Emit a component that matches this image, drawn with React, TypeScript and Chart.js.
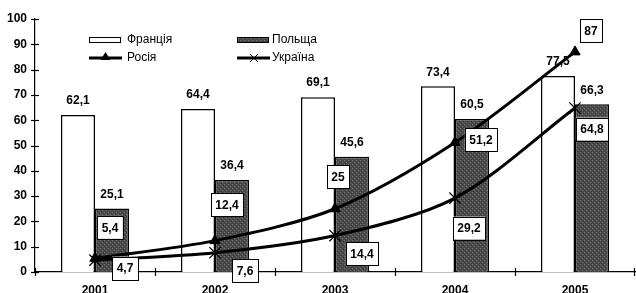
import React, { useEffect, useRef } from "react";
import { Chart, registerables } from "chart.js";

Chart.register(...registerables);

const years = ["2001", "2002", "2003", "2004", "2005"];
const france = [62.1, 64.4, 69.1, 73.4, 77.5];
const poland = [25.1, 36.4, 45.6, 60.5, 66.3];
const russia = [5.4, 12.4, 25, 51.2, 87];
const ukraine = [4.7, 7.6, 14.4, 29.2, 64.8];
const yTicks = [0, 10, 20, 30, 40, 50, 60, 70, 80, 90, 100];

// label box offsets from the point (style)
const russiaLabelOffsets = [[15, -31], [12, -36], [3, -32], [26, -3], [16, -21]];
const ukraineLabelOffsets = [[30, 8], [30, 18], [27, 18], [14, 30], [17, 21]];

const FONT = "'Liberation Sans', Arial, sans-serif";
const fmt = (v: number) => String(v).replace(".", ",");

function makePattern(): CanvasPattern | string {
  const c = document.createElement("canvas");
  c.width = 4;
  c.height = 4;
  const g = c.getContext("2d");
  if (!g) return "#555";
  g.fillStyle = "#4a4a4a";
  g.fillRect(0, 0, 4, 4);
  g.fillStyle = "#747474";
  g.fillRect(0, 0, 1, 1);
  g.fillRect(2, 2, 1, 1);
  g.fillStyle = "#363636";
  g.fillRect(1, 3, 1, 1);
  g.fillRect(3, 1, 1, 1);
  return g.createPattern(c, "repeat") || "#555";
}

export default function App() {
  const ref = useRef<HTMLCanvasElement | null>(null);

  useEffect(() => {
    if (!ref.current) return;
    const pattern = makePattern();

    const drawBox = (ctx: CanvasRenderingContext2D, text: string, cx: number, cy: number) => {
      ctx.font = `bold 12px ${FONT}`;
      const w = ctx.measureText(text).width + 9;
      const h = 23;
      ctx.fillStyle = "#fff";
      ctx.fillRect(cx - w / 2, cy - h / 2, w, h);
      ctx.strokeStyle = "#000";
      ctx.lineWidth = 1;
      ctx.strokeRect(Math.round(cx - w / 2) + 0.5, Math.round(cy - h / 2) + 0.5, Math.round(w), h);
      ctx.fillStyle = "#000";
      ctx.textAlign = "center";
      ctx.textBaseline = "middle";
      ctx.fillText(text, cx, cy + 1);
    };

    const plugin = {
      id: "custom",
      afterDatasetDraw(chart: any, args: any) {
        const ds = chart.data.datasets[args.index];
        if (ds.type !== "bar") return;
        const ctx = chart.ctx;
        ctx.save();
        ctx.font = `bold 12px ${FONT}`;
        ctx.fillStyle = "#000";
        ctx.textAlign = "center";
        ctx.textBaseline = "middle";
        args.meta.data.forEach((el: any, i: number) => {
          ctx.fillText(fmt(ds.data[i]), el.x, el.y - 14);
        });
        ctx.restore();
      },
      afterDatasetsDraw(chart: any) {
        const ctx = chart.ctx;
        ctx.save();
        const offs = [russiaLabelOffsets, ukraineLabelOffsets];
        [2, 3].forEach((di, k) => {
          const meta = chart.getDatasetMeta(di);
          const ds = chart.data.datasets[di];
          meta.data.forEach((el: any, i: number) => {
            drawBox(ctx, fmt(ds.data[i]), el.x + offs[k][i][0], el.y + offs[k][i][1]);
          });
        });
        ctx.restore();
      },
      afterDraw(chart: any) {
        const ctx = chart.ctx;
        const x = chart.scales.x;
        const y = chart.scales.y;
        const ca = chart.chartArea;
        ctx.save();
        ctx.strokeStyle = "#000";
        ctx.lineWidth = 1.2;
        yTicks.forEach((v) => {
          const py = Math.round(y.getPixelForValue(v)) + 0.5;
          ctx.beginPath();
          ctx.moveTo(ca.left - 4, py);
          ctx.lineTo(ca.left + 4, py);
          ctx.stroke();
        });
        const step = x.getPixelForValue(1) - x.getPixelForValue(0);
        for (let i = 0; i <= years.length; i++) {
          const px = i === years.length ? ca.right - 1 : x.getPixelForValue(i) - step / 2;
          const rx = Math.round(px) + 0.5;
          ctx.beginPath();
          ctx.moveTo(rx, ca.bottom - 4);
          ctx.lineTo(rx, ca.bottom + 4);
          ctx.stroke();
        }
        // legend
        const ds = chart.data.datasets;
        ctx.font = `12px ${FONT}`;
        ctx.textAlign = "left";
        ctx.textBaseline = "middle";
        ctx.fillStyle = "#fff";
        ctx.fillRect(89, 37, 31, 6);
        ctx.lineWidth = 1;
        ctx.strokeRect(89.5, 37.5, 31, 5);
        ctx.fillStyle = "#000";
        ctx.fillText(ds[0].label, 127, 40);
        ctx.fillStyle = pattern as any;
        ctx.fillRect(237, 37, 31, 6);
        ctx.strokeRect(237.5, 37.5, 31, 5);
        ctx.fillStyle = "#000";
        ctx.fillText(ds[1].label, 272, 40);
        ctx.lineWidth = 3;
        ctx.beginPath();
        ctx.moveTo(89, 58);
        ctx.lineTo(122, 58);
        ctx.stroke();
        ctx.beginPath();
        ctx.moveTo(105.5, 52);
        ctx.lineTo(110.5, 60);
        ctx.lineTo(100.5, 60);
        ctx.closePath();
        ctx.fill();
        ctx.fillText(ds[2].label, 127, 58);
        ctx.beginPath();
        ctx.moveTo(237, 58);
        ctx.lineTo(270, 58);
        ctx.stroke();
        ctx.lineWidth = 1;
        ctx.beginPath();
        ctx.moveTo(250, 54);
        ctx.lineTo(258, 62);
        ctx.moveTo(258, 54);
        ctx.lineTo(250, 62);
        ctx.stroke();
        ctx.fillText(ds[3].label, 272, 58);
        ctx.restore();
      },
    };

    const chart = new Chart(ref.current, {
      type: "bar",
      data: {
        labels: years,
        datasets: [
          {
            type: "bar",
            label: "Франція",
            data: france,
            backgroundColor: "#ffffff",
            borderColor: "#000",
            borderWidth: 1.5,
            barPercentage: 1,
            categoryPercentage: 0.567,
            order: 2,
          } as any,
          {
            type: "bar",
            label: "Польща",
            data: poland,
            backgroundColor: pattern as any,
            borderColor: "#000",
            borderWidth: 1.5,
            barPercentage: 1,
            categoryPercentage: 0.567,
            order: 2,
          } as any,
          {
            type: "line",
            label: "Росія",
            data: russia,
            borderColor: "#000",
            borderWidth: 3,
            tension: 0.3,
            pointStyle: "triangle",
            pointRadius: 6,
            pointBackgroundColor: "#000",
            pointBorderColor: "#000",
            pointBorderWidth: 1,
            order: 1,
          } as any,
          {
            type: "line",
            label: "Україна",
            data: ukraine,
            borderColor: "#000",
            borderWidth: 3,
            tension: 0.3,
            pointStyle: "crossRot",
            pointRadius: 8,
            pointBorderColor: "#000",
            pointBorderWidth: 1.2,
            order: 1,
          } as any,
        ],
      },
      options: {
        responsive: false,
        animation: false,
        layout: { autoPadding: false, padding: { top: 19, right: 1, left: 0, bottom: 0 } },
        plugins: { legend: { display: false }, tooltip: { enabled: false } },
        scales: {
          x: {
            grid: { display: false, drawTicks: false },
            border: { display: true, color: "#000", width: 1.2 },
            ticks: { color: "#000", font: { family: FONT, size: 12, weight: "bold" }, padding: 11 },
            afterFit: (s: any) => {
              s.height = 21;
              s.paddingLeft = 0;
              s.paddingRight = 0;
            },
          },
          y: {
            min: 0,
            max: 100,
            grid: { display: false, drawTicks: false },
            border: { display: true, color: "#000", width: 1.2 },
            ticks: { stepSize: 10, color: "#000", font: { family: FONT, size: 12, weight: "bold" }, padding: 8 },
            afterFit: (s: any) => {
              s.width = 35;
            },
          },
        },
      },
      plugins: [plugin],
    } as any);

    return () => chart.destroy();
  }, []);

  return (
    <div style={{ position: "absolute", left: 0, top: 0, width: 636, height: 293, background: "#fff" }}>
      <canvas ref={ref} width={636} height={293} style={{ display: "block" }} />
    </div>
  );
}
